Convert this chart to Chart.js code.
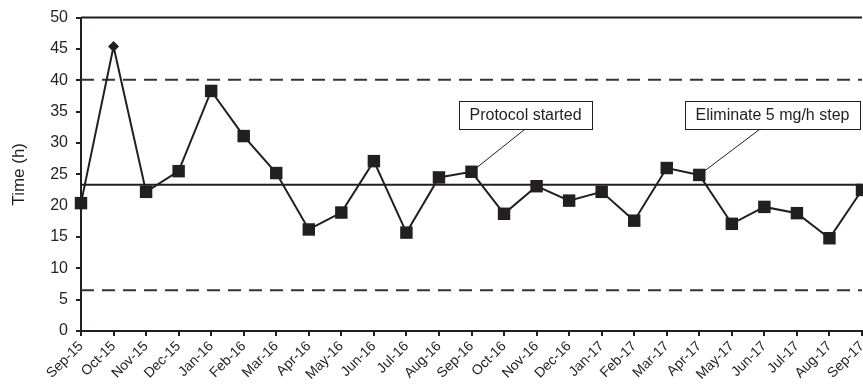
<!DOCTYPE html>
<html>
<head>
<meta charset="utf-8">
<script src="https://cdn.jsdelivr.net/npm/chart.js@4"></script>
<style>
  html, body { margin: 0; padding: 0; background: #fff; }
  #wrap { width: 863px; height: 392px; }
</style>
</head>
<body>
<div id="wrap"><canvas id="chart" width="863" height="392"></canvas></div>
<script>
// Run chart - monthly times with centre line and control limits

const months = ['Sep-15', 'Oct-15', 'Nov-15', 'Dec-15', 'Jan-16', 'Feb-16', 'Mar-16', 'Apr-16',
    'May-16', 'Jun-16', 'Jul-16', 'Aug-16', 'Sep-16', 'Oct-16', 'Nov-16', 'Dec-16', 'Jan-17',
    'Feb-17', 'Mar-17', 'Apr-17', 'May-17', 'Jun-17', 'Jul-17', 'Aug-17', 'Sep-17'];
const timeHours = [20.4, 45.4, 22.2, 25.5, 38.3, 31.1, 25.2, 16.2, 18.9, 27.1, 15.7, 24.5, 25.4,
    18.7, 23.1, 20.8, 22.2, 17.6, 26.0, 24.9, 17.1, 19.8, 18.8, 14.8, 22.5];
const pointShapes = ['rect', 'rectRot', 'rect', 'rect', 'rect', 'rect', 'rect', 'rect', 'rect',
    'rect', 'rect', 'rect', 'rect', 'rect', 'rect', 'rect', 'rect', 'rect', 'rect', 'rect', 'rect',
    'rect', 'rect', 'rect', 'rect'];
const yTicks = [0, 5, 10, 15, 20, 25, 30, 35, 40, 45, 50];

const centreLine = 23.35;
const upperLimit = 40.1;
const lowerLimit = 6.5;

// label, point it refers to, box centre (category index, value)
const notes = [
    { text: 'Protocol started', target: 12, boxX: 13.66, boxY: 34.5, lineX: 13.66 },
    { text: 'Eliminate 5 mg/h step', target: 19, boxX: 21.25, boxY: 34.5, lineX: 20.88 }
];

const ink = '#231f20';
const font = '"Liberation Sans", Arial, sans-serif';

const refLines = {
    id: 'refLines',
    beforeDatasetsDraw(chart) {
        const { ctx, chartArea, scales } = chart;
        const y = scales.y;
        ctx.save();
        // frame top
        ctx.strokeStyle = ink;
        ctx.lineWidth = 2;
        ctx.beginPath();
        ctx.moveTo(chartArea.left, y.getPixelForValue(50));
        ctx.lineTo(chartArea.right, y.getPixelForValue(50));
        ctx.stroke();
        // centre line
        ctx.lineWidth = 2;
        ctx.beginPath();
        ctx.moveTo(chartArea.left, y.getPixelForValue(centreLine));
        ctx.lineTo(chartArea.right, y.getPixelForValue(centreLine));
        ctx.stroke();
        // limits
        ctx.setLineDash([13, 8]);
        ctx.strokeStyle = '#333';
        [upperLimit, lowerLimit].forEach(v => {
            ctx.beginPath();
            ctx.moveTo(chartArea.left, y.getPixelForValue(v));
            ctx.lineTo(chartArea.right, y.getPixelForValue(v));
            ctx.stroke();
        });
        ctx.restore();
    },
    afterDatasetsDraw(chart) {
        const { ctx, scales } = chart;
        const x = scales.x, y = scales.y;
        ctx.save();
        ctx.font = '16px ' + font;
        ctx.textBaseline = 'middle';
        ctx.textAlign = 'center';
        notes.forEach(n => {
            const w = ctx.measureText(n.text).width + 21;
            const h = 28;
            const cx = x.getPixelForValue(n.boxX);
            const cy = y.getPixelForValue(n.boxY);
            // leader line
            ctx.strokeStyle = ink;
            ctx.lineWidth = 1;
            ctx.beginPath();
            ctx.moveTo(x.getPixelForValue(n.lineX), cy + h / 2);
            ctx.lineTo(x.getPixelForValue(n.target), y.getPixelForValue(timeHours[n.target]));
            ctx.stroke();
            ctx.fillStyle = '#fff';
            ctx.fillRect(cx - w / 2, cy - h / 2, w, h);
            ctx.strokeRect(Math.round(cx - w / 2) + 0.5, Math.round(cy - h / 2) + 0.5, Math.round(w), h);
            ctx.fillStyle = ink;
            ctx.fillText(n.text, cx, cy + 1);
        });
        ctx.restore();
    }
};

new Chart(document.getElementById('chart'), {
    type: 'line',
    data: {
        labels: months,
        datasets: [{
            data: timeHours,
            borderColor: ink,
            borderWidth: 2,
            backgroundColor: ink,
            pointStyle: pointShapes,
            pointRadius: timeHours.map((v, i) => pointShapes[i] === 'rectRot' ? 5.5 : 8.8),
            pointBorderWidth: 0,
            tension: 0,
            clip: false
        }]
    },
    options: {
        responsive: false,
        animation: false,
        layout: { autoPadding: false, padding: { top: 17, right: 1, left: 0, bottom: 0 } },
        plugins: { legend: { display: false }, tooltip: { enabled: false } },
        scales: {
            x: {
                offset: false,
                grid: { drawOnChartArea: false, drawTicks: true, tickLength: 5, color: ink, lineWidth: 2 },
                border: { color: ink, width: 2 },
                ticks: {
                    color: ink, minRotation: 45, maxRotation: 45, autoSkip: false,
                    font: { family: font, size: 14 }, padding: 2
                },
                afterFit(scale) {
                    scale.height = 61;
                    scale.paddingRight = 0;
                    scale.paddingLeft = 0;
                }
            },
            y: {
                min: 0, max: 50,
                afterBuildTicks(scale) { scale.ticks = yTicks.map(v => ({ value: v })); },
                grid: { drawOnChartArea: false, drawTicks: true, tickLength: 5, color: ink, lineWidth: 2 },
                border: { color: ink, width: 2 },
                ticks: { color: ink, font: { family: font, size: 16 }, padding: 8 },
                title: { display: true, text: 'Time (h)', color: ink, font: { family: font, size: 17 }, padding: { top: 9, bottom: 0 } },
                afterFit(scale) { scale.width = 81; }
            }
        }
    },
    plugins: [refLines]
});
</script>
</body>
</html>
